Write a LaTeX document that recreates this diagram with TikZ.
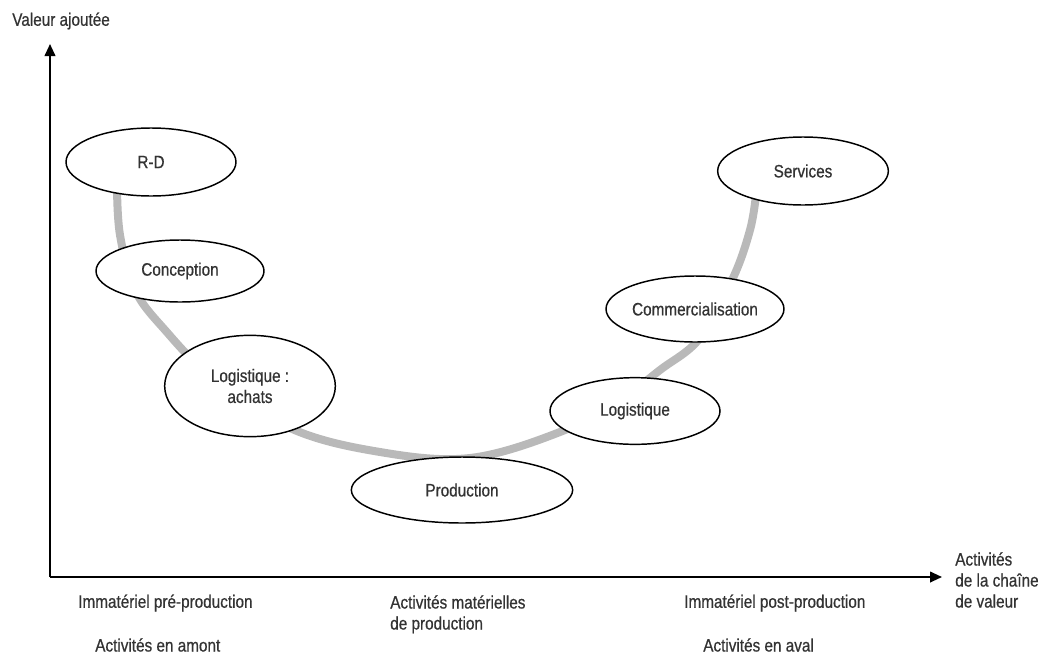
\documentclass[tikz,border=0pt]{standalone}
\usepackage{fontspec}
\setmainfont{Liberation Sans}[FakeStretch=0.85,FakeBold=0.6]
\usetikzlibrary{shapes.geometric,arrows.meta}
\definecolor{curvegray}{RGB}{185,185,185}
\begin{document}
\begin{tikzpicture}[x=0.75pt,y=-0.75pt,
  every node/.style={font=\fontsize{13.5}{15.75}\selectfont, text=black!80},
  bubble/.style={ellipse, draw, line width=1.1pt, fill=white, inner sep=0pt, align=center},
  axis/.style={line width=1.4pt, -{Triangle[length=9pt,width=8pt]}},
  lbl/.style={anchor=west, align=left, inner sep=0pt}
]
\useasboundingbox (0,0) rectangle (1041,657);
% axes
\coordinate (o) at (50,577);
\coordinate (ytip) at (50,44);
\coordinate (xtip) at (942,577);
\draw[axis] (o) -- (ytip);
\draw[axis] (o) -- (xtip);
% curve
\draw[curvegray, line width=6pt, line cap=round] plot[smooth, tension=0.6] coordinates {
 (117,185) (120,235) (135,290) (165,330) (210,375) (290,428) (380,452) (470,458)
 (560,432) (620,400) (660,370) (700,338) (733,278) (750,230) (756,195)};
% bubbles
\node[bubble, minimum width=127.5pt, minimum height=51pt] (rd) at (151,162) {R-D};
\node[bubble, minimum width=126pt, minimum height=46.5pt] (conc) at (180,271) {Conception};
\node[bubble, minimum width=128pt, minimum height=76pt] (ach) at (250,386) {Logistique :\\achats};
\node[bubble, minimum width=166pt, minimum height=49.5pt] (prod) at (462,490) {Production};
\node[bubble, minimum width=127.5pt, minimum height=50pt] (logr) at (635,411) {Logistique};
\node[bubble, minimum width=127pt, minimum height=49.5pt] (comm) at (695,309) {Commercialisation};
\node[bubble, minimum width=128pt, minimum height=51pt] (serv) at (803,171) {Services};
% labels
\node[lbl] (va) at (12,21) {Valeur ajoutée};
\node[lbl] (ipre) at (78,603) {Immatériel pré-production};
\node[lbl] (amont) at (95,645) {Activités en amont};
\node[lbl, anchor=north west] (mat) at (390,595) {Activités matérielles\\de production};
\node[lbl] (ipost) at (684,603) {Immatériel post-production};
\node[lbl] (aval) at (703,645) {Activités en aval};
\node[lbl, anchor=north west] (chaine) at (955,552) {Activités\\de la chaîne\\de valeur};
\end{tikzpicture}
\end{document}
